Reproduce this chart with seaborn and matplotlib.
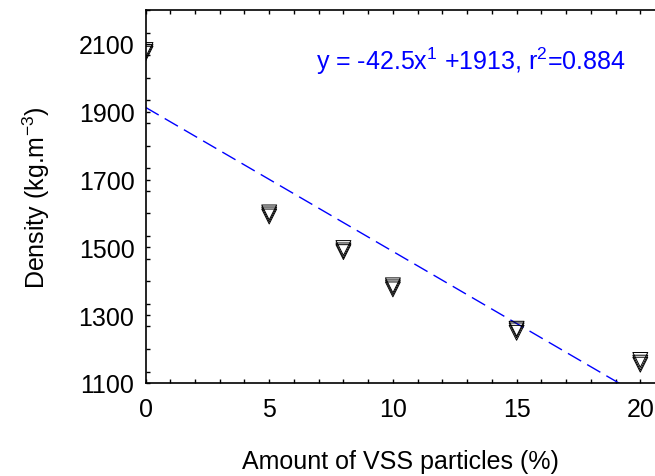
import matplotlib
matplotlib.use("Agg")
import matplotlib.pyplot as plt
import seaborn as sns
import pandas as pd
from matplotlib.ticker import MultipleLocator

vss_pct = [0, 0, 0, 5, 5, 5, 8, 8, 8, 10, 10, 10, 15, 15, 15, 20, 20, 20]
density = [2082, 2076, 2071, 1603, 1597, 1591, 1498, 1491, 1486,
           1388, 1382, 1376, 1260, 1255, 1248, 1168, 1160, 1154]

fit_slope = -42.5
fit_intercept = 1913
fit_r2 = 0.884
fit_x = [0, 22]

xticks = [0, 5, 10, 15, 20]
yticks = [1100, 1300, 1500, 1700, 1900, 2100]

sns.set_theme(style="ticks")
plt.rcParams["font.family"] = ["Liberation Sans", "DejaVu Sans"]

fig = plt.figure(figsize=(6.55, 4.77), dpi=100)
ax = fig.add_axes([145.5 / 655, 93 / 477, 1 - 145.5 / 655, (384 - 11) / 477])

df = pd.DataFrame({"x": vss_pct, "y": density})
sns.scatterplot(data=df, x="x", y="y", marker="v", s=115, facecolors="none",
                edgecolor="black", linewidth=0.7, ax=ax, zorder=3)

fit_df = pd.DataFrame({"x": fit_x, "y": [fit_slope * v + fit_intercept for v in fit_x]})
sns.lineplot(data=fit_df, x="x", y="y", color="#0000ff", linewidth=1.0,
             dashes=False, ax=ax, zorder=2)
ax.lines[-1].set_dashes([11, 5])

ax.set_xlim(0, (655 - 145.5) / 24.74)
ax.set_ylim(1100, 2200)
ax.set_xticks(xticks)
ax.set_yticks(yticks)
ax.xaxis.set_minor_locator(MultipleLocator(1))
ax.yaxis.set_minor_locator(MultipleLocator(200 / 3))

ax.tick_params(axis="both", which="both", direction="in", top=True, right=False,
               length=3, width=1, color="black")
ax.tick_params(axis="both", which="major", labelsize=18, pad=8, labelcolor="black")
ax.tick_params(axis="x", which="major", pad=10)

for side in ["left", "bottom", "top"]:
    ax.spines[side].set_color("black")
    ax.spines[side].set_linewidth(1.2)
ax.spines["right"].set_visible(False)

ax.set_xlabel("Amount of VSS particles (%)", fontsize=18, labelpad=20, color="black")
ax.set_ylabel("Density (kg.m$^{\\mathregular{-3}}$)", fontsize=18, labelpad=19, color="black")

fig.text(316 / 655, 1 - 61 / 477,
         "y = -42.5x$^{\\mathregular{1}}$ +1913, r$^{\\mathregular{2}}$=0.884",
         fontsize=18, color="#0000ff", va="center", ha="left")

fig.savefig("out.png", dpi=100)
